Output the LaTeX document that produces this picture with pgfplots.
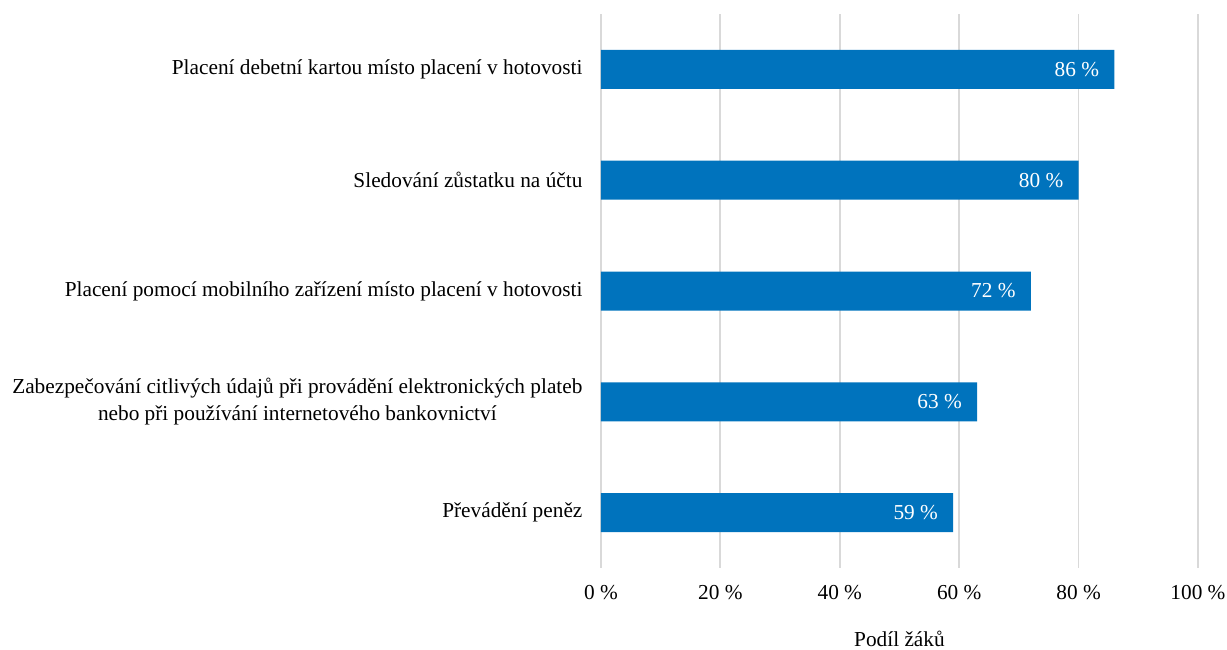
\documentclass[border=0pt]{standalone}
\usepackage{fontspec}
\setmainfont{Liberation Serif}
\usepackage{pgfplots}
\pgfplotsset{compat=1.18}
\definecolor{barblue}{RGB}{0,115,189}
\definecolor{gridgray}{RGB}{217,217,217}
\begin{document}
\fontsize{21.3}{26.5}\selectfont
\begin{tikzpicture}
\begin{axis}[
  scale only axis,
  width=597pt, height=554pt,
  xbar, bar width=39pt,
  xmin=0, xmax=100,
  ymin=-0.5, ymax=4.5,
  y dir=reverse,
  axis line style={draw=none},
  tick style={draw=none},
  xmajorgrids, grid style={gridgray, line width=1.8pt},
  xtick={0,20,40,60,80,100},
  xticklabels={0 \%,20 \%,40 \%,60 \%,80 \%,100 \%},
  xticklabel style={yshift=-10pt},
  ytick={0,1,2,3,4},
  yticklabels={
    Placení debetní kartou místo placení v hotovosti,
    Sledování zůstatku na účtu,
    Placení pomocí mobilního zařízení místo placení v hotovosti,
    {Zabezpečování citlivých údajů při provádění elektronických plateb\\nebo při používání internetového bankovnictví},
    Převádění peněz},
  yticklabel style={align=center, xshift=-7pt},
  xlabel={Podíl žáků},
  xlabel style={yshift=-17pt},
  nodes near coords={\pgfmathprintnumber[assume math mode=true]{\pgfplotspointmeta}\ \%},
  every node near coord/.append style={anchor=east, xshift=-8pt, white},
]
\addplot[fill=barblue, draw=none] coordinates {(86,0) (80,1) (72,2) (63,3) (59,4)};
\end{axis}
\pgfresetboundingbox
\path (-601pt,-82pt) rectangle (626pt,568pt);
\end{tikzpicture}
\end{document}
